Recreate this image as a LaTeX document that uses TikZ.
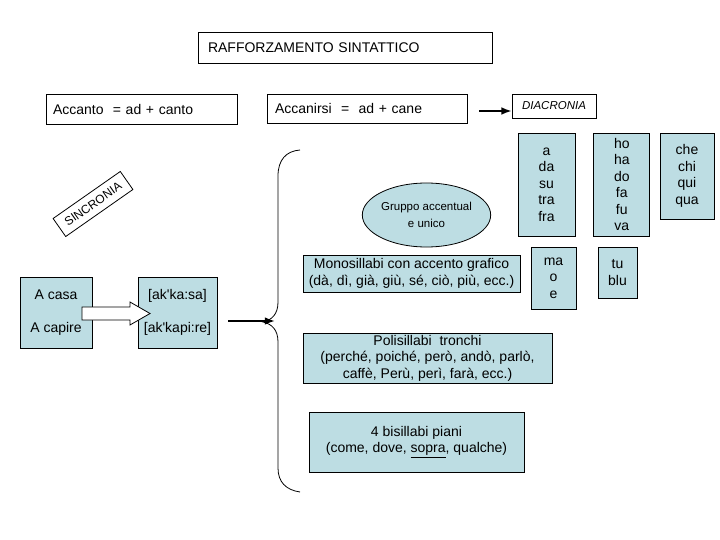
\documentclass[tikz,border=0pt]{standalone}
\usepackage{fontspec}
\setmainfont{Liberation Sans}
\newfontfamily\plainfont{Liberation Sans}
\usepackage{tikz}
\usetikzlibrary{arrows.meta,positioning,shapes.geometric}
\definecolor{paleblue}{RGB}{189,221,227}

\begin{document}
\begin{tikzpicture}[>=Latex, x=1pt, y=-1pt, line width=0.8pt,
  every node/.style={font=\fontsize{14}{16.5}\selectfont},
  framebox/.style={draw, fill=white, inner ysep=0pt, align=left},
  bluebox/.style={draw, fill=paleblue, inner sep=0pt, align=center},
  bold arrow/.style={->, line width=1.6pt}]
  \useasboundingbox (0,0) rectangle (720,540);

  % top row
  \node[framebox, inner xsep=10pt, text width=274pt, minimum height=31pt] (title) at (345,47.5) {RAFFORZAMENTO SINTATTICO};
  \node[framebox, inner xsep=7pt, text width=177pt, minimum height=30pt] (accanto) at (141.5,109) {Accanto~ = ad + canto};
  \node[framebox, inner xsep=8pt, text width=184pt, minimum height=29pt] (accanirsi) at (367,108.5) {Accanirsi~ = ~ad + cane};
  \node[draw, fill=white, inner sep=0pt, minimum width=84pt, minimum height=24pt, font=\fontsize{11.5}{13}\selectfont\itshape] (diacronia) at (554,106) {DIACRONIA};
  \coordinate (dstart) at (479,111);
  \draw[bold arrow] (dstart) -- (dstart -| diacronia.west);

  \node[draw, fill=white, inner sep=0pt, rotate=35, minimum width=82pt, minimum height=22pt, font=\fontsize{12}{14}\selectfont] (sincronia) at (93,204) {SINCRONIA};

  % lists on the right
  \node[bluebox, minimum width=57pt, minimum height=103pt] (col1) at (546.5,184.5) {a\\da\\su\\tra\\fra};
  \node[bluebox, minimum width=56pt, minimum height=103pt, right=18pt of col1] (col2) {ho\\ha\\do\\fa\\fu\\va};
  \node[bluebox, minimum width=54pt, minimum height=86pt] (col3) at (687,176) {che\\chi\\qui\\qua};
  \node[bluebox, minimum width=45pt, minimum height=62pt] (col4) at (553.5,278) {ma\\o\\e};
  \node[bluebox, minimum width=39pt, minimum height=51pt] (col5) at (617.5,272.5) {tu\\blu};

  % middle
  \node[ellipse, draw, fill=paleblue, inner sep=0pt, align=center, minimum width=123pt, minimum height=64pt, font=\fontsize{11.5}{16.5}\selectfont] (gruppo) at (426.5,215) {Gruppo accentual\\e unico};
  \node[bluebox, minimum width=217pt, minimum height=37pt] (mono) at (411.5,273.5) {Monosillabi con accento grafico\\(dà, dì, già, giù, sé, ciò, più, ecc.)};
  \node[bluebox, minimum width=249pt, minimum height=50pt] (poli) at (427.5,358) {Polisillabi~ tronchi\\(perché, poiché, però, andò, parlò,\\caffè, Perù, perì, farà, ecc.)};
  \node[bluebox, minimum width=215pt, minimum height=60pt] (bisil) at (416.5,442) {4 bisillabi piani\\(come, dove, \underline{sopra}, qualche)};

  % bottom left
  \node[bluebox, minimum width=72pt, minimum height=71pt, font=\fontsize{14}{33}\selectfont] (frasi) at (56,312.5) {A casa\\A capire};
  \node[bluebox, minimum width=79pt, minimum height=71pt, font=\fontsize{14}{33}\selectfont\plainfont] (trascr) at (177.5,312.5) {[ak'ka:sa]\\{[ak'kapi:re]}};
  \draw[fill=white] (82,307) -- (130,307) -- (130,302) -- (150,313.5) -- (130,325) -- (130,320) -- (82,320) -- cycle;

  % brace
  \draw (300,150) .. controls (286,151) and (278,160) .. (278,176) -- (278,302)
    .. controls (278,314) and (272,320) .. (263,322)
    .. controls (272,324) and (278,330) .. (278,342) -- (278,468)
    .. controls (278,482) and (286,490) .. (300,492);
  \coordinate (bracetip) at (275,321);
  \draw[bold arrow, shorten <=11pt] (trascr.east |- bracetip) -- (bracetip);
\end{tikzpicture}
\end{document}
